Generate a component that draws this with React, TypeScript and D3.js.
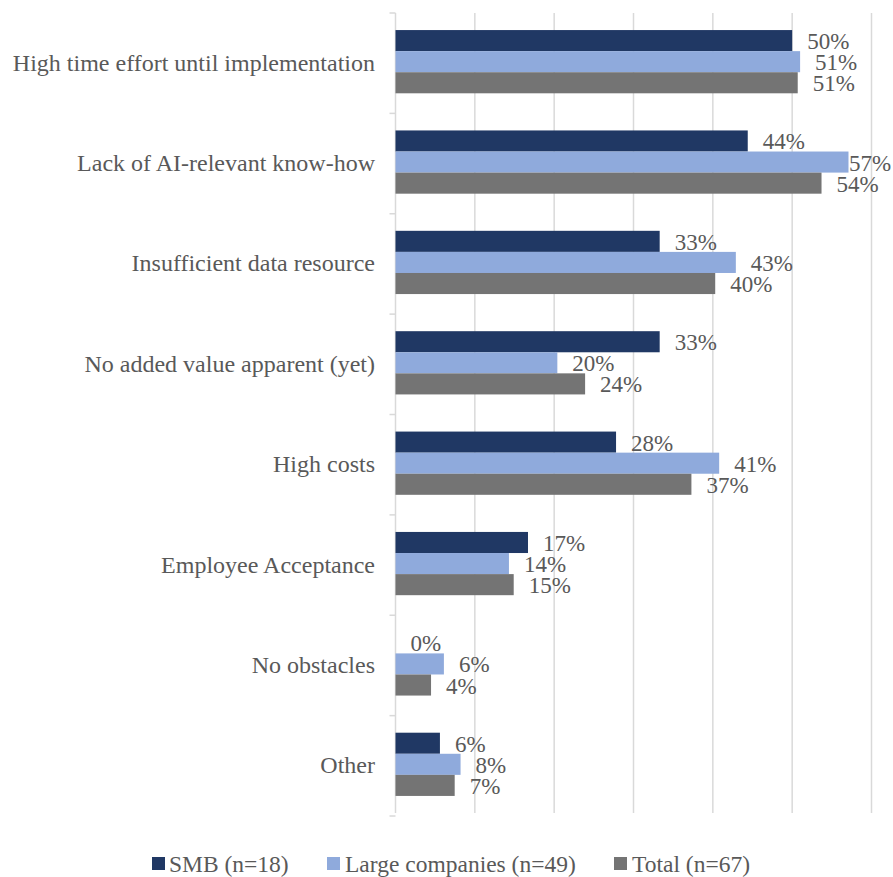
import React from "react";
import * as d3 from "d3";

const categories = [
  "High time effort until implementation",
  "Lack of AI-relevant know-how",
  "Insufficient data resource",
  "No added value apparent (yet)",
  "High costs",
  "Employee Acceptance",
  "No obstacles",
  "Other",
];
const seriesNames = ["SMB (n=18)", "Large companies (n=49)", "Total (n=67)"];
const smb = [50.0, 44.4, 33.3, 33.3, 27.8, 16.7, 0, 5.6];
const large = [51.0, 57.1, 42.9, 20.4, 40.8, 14.3, 6.1, 8.2];
const total = [50.7, 53.7, 40.3, 23.9, 37.3, 14.9, 4.48, 7.46];
const xTicks = [10, 20, 30, 40, 50, 60];
const colors = ["#203864", "#8FAADC", "#747474"];

const W = 893;
const H = 877;
const FONT = "'Liberation Serif', 'Times New Roman', serif";
const TEXT = "#595959";
const GRID = "#d9d9d9";

export default function App() {
  const series = [smb, large, total];
  const x = d3.scaleLinear().domain([0, 60]).range([395.5, 871.5]);
  const y0 = d3
    .scaleBand<string>()
    .domain(categories)
    .range([13, 813])
    .paddingInner(0.37)
    .paddingOuter(0.17);
  const y1 = d3
    .scaleBand<number>()
    .domain([0, 1, 2])
    .range([0, y0.bandwidth()]);
  const step = y0.step();
  const boundaries = d3.range(categories.length + 1).map((i) => 13 + i * step);

  const legendSquares = [152, 327, 614];
  const legendTexts = [169, 345, 632];

  return (
    <svg
      width={W}
      height={H}
      style={{ position: "absolute", left: 0, top: 0, background: "#fff" }}
      fontFamily={FONT}
    >
      {xTicks.map((t) => (
        <line
          key={t}
          x1={x(t)}
          x2={x(t)}
          y1={13}
          y2={813}
          stroke={GRID}
          strokeWidth={1.5}
        />
      ))}
      <line x1={x(0)} x2={x(0)} y1={13} y2={813} stroke={GRID} strokeWidth={1.5} />
      {boundaries.map((b, i) => (
        <line key={i} x1={x(0) - 6} x2={x(0)} y1={b} y2={b} stroke={GRID} strokeWidth={1.5} />
      ))}
      {categories.map((c, ci) => (
        <g key={c} transform={`translate(0,${y0(c)})`}>
          {series.map((s, si) => (
            <rect
              key={si}
              x={x(0)}
              y={y1(si)}
              width={Math.max(0, x(s[ci]) - x(0))}
              height={y1.bandwidth()}
              fill={colors[si]}
            />
          ))}
          {series.map((s, si) => {
            const lx = Math.min(x(s[ci]) + 15, 849);
            return (
              <text
                key={"l" + si}
                x={lx}
                y={(y1(si) as number) + y1.bandwidth() / 2 + 8.5}
                fontSize={23}
                fill={TEXT}
              >
                {`${Math.round(s[ci])}%`}
              </text>
            );
          })}
        </g>
      ))}
      {categories.map((c) => (
        <text
          key={c}
          x={375}
          y={(y0(c) as number) + y0.bandwidth() / 2 + 9}
          textAnchor="end"
          fontSize={24}
          fill={TEXT}
        >
          {c}
        </text>
      ))}
      {seriesNames.map((n, i) => (
        <g key={n}>
          <rect x={legendSquares[i]} y={857} width={13} height={13} fill={colors[i]} />
          <text x={legendTexts[i]} y={872} fontSize={23.5} fill={TEXT}>
            {n}
          </text>
        </g>
      ))}
    </svg>
  );
}
